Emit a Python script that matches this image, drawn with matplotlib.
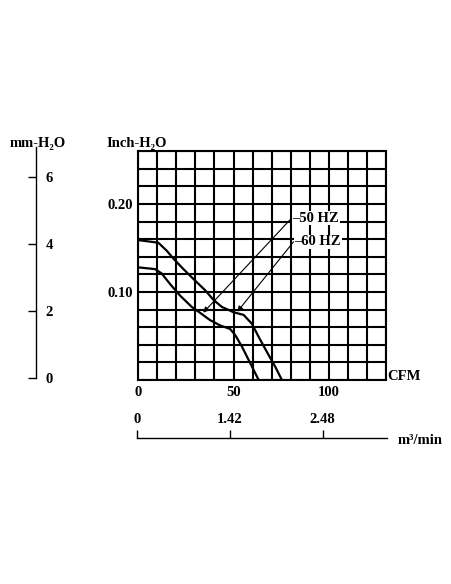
import numpy as np
import matplotlib.pyplot as plt

# fan curve, static pressure vs air flow
cfm_60 = [0, 10.5, 14.9, 18.4, 23.7, 29.8, 35.1, 39.5, 43.9, 50, 55.3, 59.6, 63.2, 67.5, 71.9, 75.4]
inch_60 = [0.159, 0.156, 0.147, 0.138, 0.126, 0.113, 0.102, 0.091, 0.083, 0.077, 0.074, 0.064, 0.049, 0.032, 0.015, 0.0]
cfm_50 = [0, 8.8, 12.3, 16.7, 21.9, 28.1, 33.3, 37.7, 43, 48.2, 50.9, 54.4, 58.8, 63.2]
inch_50 = [0.128, 0.126, 0.121, 0.109, 0.096, 0.083, 0.075, 0.068, 0.062, 0.058, 0.051, 0.038, 0.019, 0.0]

x_ticks = [0, 50, 100]
y_ticks = [0.10, 0.20]
mm_ticks = [0, 2, 4, 6]
m3_pos = [0, 50, 100]
m3_labels = ["0", "1.42", "2.48"]

# label text, arrow tail (label end) and arrow head
labels = ["50 HZ", "60 HZ"]
label_xy = [(80.5, 0.184), (81.5, 0.157)]
head_xy = [(34.1, 0.0765), (52.0, 0.0776)]

W, H = 452, 584
plt.rcParams['font.family'] = ['Liberation Serif', 'DejaVu Serif']
plt.rcParams['font.weight'] = 'bold'
fs = 10.5

fig = plt.figure(figsize=(W / 100, H / 100), dpi=100, facecolor='w')

def box(l, t, r, b):
    return [l / W, 1 - b / H, (r - l) / W, (b - t) / H]

# main grid
ax = fig.add_axes(box(138.3, 151.2, 385.9, 380))
ax.set_xlim(0, 130)
ax.set_ylim(0, 0.26)
ax.set_xticks(np.arange(0, 131, 10))
ax.set_yticks(np.arange(0, 0.261, 0.02))
ax.set_xticklabels([str(int(v)) if int(round(v)) in x_ticks else "" for v in np.arange(0, 131, 10)])
ax.set_yticklabels(["%.2f" % v if any(abs(v - t) < 1e-6 for t in y_ticks) else "" for v in np.arange(0, 0.261, 0.02)])
ax.tick_params(axis='y', length=0, labelsize=fs, pad=3.5)
ax.tick_params(axis='x', length=0, labelsize=fs, pad=4)
ax.grid(True, color='black', linewidth=1.5)
for s in ax.spines.values():
    s.set_linewidth(1.5)

ax.plot(cfm_60, inch_60, color='black', linewidth=1.6, zorder=5)
ax.plot(cfm_50, inch_50, color='black', linewidth=1.6, zorder=5)

for txt, p0, p1 in zip(labels, label_xy, head_xy):
    ax.annotate("", xy=p1, xytext=p0,
                arrowprops=dict(arrowstyle='-|>', color='black', lw=0.8,
                                mutation_scale=8, shrinkA=0, shrinkB=0),
                zorder=6)
    ax.text(p0[0] + 0.5, p0[1], "\u2013" + txt, fontsize=fs, va='center', ha='left',
            zorder=7, bbox=dict(facecolor='white', edgecolor='none', pad=0.5))

fig.text(106 / W, 1 - 144 / H, "Inch-H\u2082O", fontsize=fs, va='center', ha='left')
fig.text(387 / W, 1 - 376 / H, "CFM", fontsize=fs, va='center', ha='left')

# mm-H2O scale on the left
ax2 = fig.add_axes(box(20, 146.7, 36, 378.3))
ax2.set_facecolor('none')
ax2.set_ylim(0, (378.3 - 146.7) / 33.5)
for k in ['left', 'top', 'bottom']:
    ax2.spines[k].set_visible(False)
ax2.spines['right'].set_linewidth(1.0)
ax2.set_xticks([])
ax2.yaxis.tick_right()
ax2.set_yticks(mm_ticks)
ax2.set_yticklabels([str(v) for v in mm_ticks])
ax2.tick_params(axis='y', direction='in', length=6, width=1.0, labelsize=fs, pad=7)
fig.text(10 / W, 1 - 144 / H, "mm-H\u2082O", fontsize=fs, va='center', ha='left')

# m3/min scale below
ax3 = fig.add_axes(box(136.7, 438.3, 386.7, 450))
ax3.set_facecolor('none')
ax3.set_xlim(0, 250 / 1.86)
for k in ['left', 'right', 'bottom']:
    ax3.spines[k].set_visible(False)
ax3.spines['top'].set_linewidth(1.0)
ax3.set_yticks([])
ax3.xaxis.tick_top()
ax3.set_xticks(m3_pos)
ax3.set_xticklabels(m3_labels)
ax3.tick_params(axis='x', direction='out', length=6, width=1.0, labelsize=fs, pad=3)
fig.text(398 / W, 1 - 440 / H, "m\u00b3/min", fontsize=fs, va='center', ha='left')

plt.savefig("out.png", dpi=100, facecolor='w')
